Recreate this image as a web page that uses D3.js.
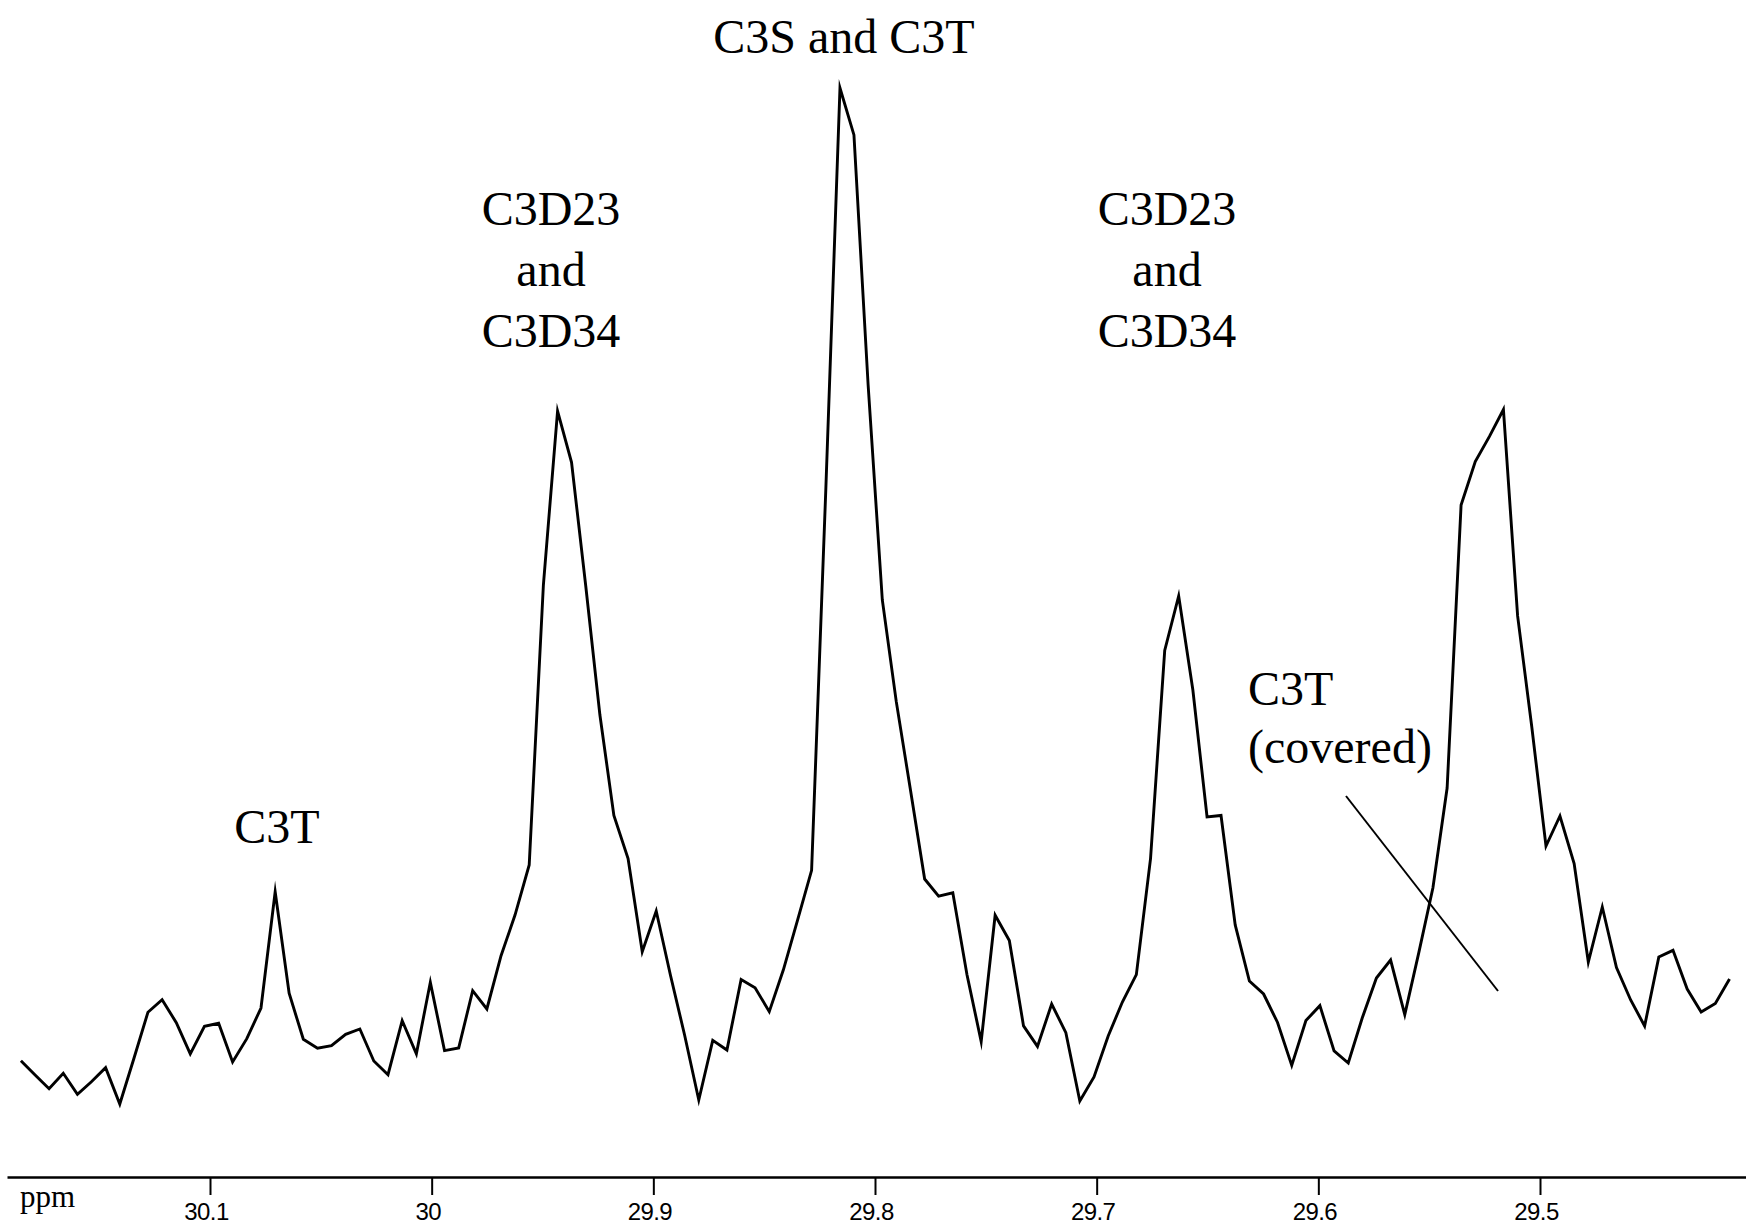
<!DOCTYPE html>
<html>
<head>
<meta charset="utf-8">
<script src="https://cdn.jsdelivr.net/npm/d3@7"></script>
<style>
  html, body { margin: 0; padding: 0; background: #fff; }
  svg { display: block; }
</style>
</head>
<body>
<svg id="chart" width="1746" height="1227"></svg>
<script>
// 13C NMR spectrum, C3 region: chemical shift (ppm) and signal intensity (arbitrary units)
const ppm = [
  30.1853, 30.1789, 30.1726, 30.1662, 30.1598, 30.1535, 30.1471, 30.1407, 30.1343, 30.1280,
  30.1216, 30.1152, 30.1089, 30.1025, 30.0961, 30.0898, 30.0834, 30.0770, 30.0706, 30.0643,
  30.0579, 30.0515, 30.0452, 30.0388, 30.0324, 30.0261, 30.0197, 30.0133, 30.0069, 30.0006,
  29.9942, 29.9878, 29.9815, 29.9751, 29.9687, 29.9624, 29.9560, 29.9496, 29.9432, 29.9369,
  29.9305, 29.9241, 29.9178, 29.9114, 29.9050, 29.8987, 29.8923, 29.8859, 29.8795, 29.8732,
  29.8668, 29.8604, 29.8541, 29.8477, 29.8413, 29.8350, 29.8286, 29.8222, 29.8158, 29.8095,
  29.8031, 29.7967, 29.7904, 29.7840, 29.7776, 29.7713, 29.7649, 29.7585, 29.7521, 29.7458,
  29.7394, 29.7330, 29.7267, 29.7203, 29.7139, 29.7076, 29.7012, 29.6948, 29.6884, 29.6821,
  29.6757, 29.6693, 29.6630, 29.6566, 29.6502, 29.6439, 29.6375, 29.6311, 29.6247, 29.6184,
  29.6120, 29.6056, 29.5993, 29.5929, 29.5865, 29.5802, 29.5738, 29.5674, 29.5610, 29.5547,
  29.5483, 29.5419, 29.5356, 29.5292, 29.5228, 29.5165, 29.5101, 29.5037, 29.4973, 29.4910,
  29.4846, 29.4782, 29.4719, 29.4655, 29.4591, 29.4528, 29.4464, 29.4400, 29.4336, 29.4273,
  29.4209, 29.4145
];

const intensity = [
   5.75,  4.36,  3.03,  4.53,  2.49,  3.71,  5.07,  1.55,  5.98, 10.44,
  11.66,  9.43,  6.40,  9.08,  9.37,  5.62,  7.88, 10.85, 22.12, 12.28,
   7.82,  6.95,  7.20,  8.30,  8.82,  5.72,  4.39,  9.62,  6.42, 13.34,
   6.72,  6.98, 12.53, 10.76, 15.92, 19.86, 24.71, 51.84, 68.70, 63.73,
  51.77, 39.24, 29.52, 25.34, 16.30, 20.25, 14.05,  8.24,  1.94,  7.72,
   6.78, 13.61, 12.82, 10.50, 14.58, 19.31, 24.19, 61.05, 100.0, 95.45,
  71.22, 50.39, 40.54, 31.98, 23.35, 21.69, 22.02, 14.08,  7.60, 19.84,
  17.39,  9.12,  7.13, 11.24,  8.46,  1.84,  4.17,  8.14, 11.43, 14.08,
  25.33, 45.50, 50.78, 41.67, 29.36, 29.51, 18.90, 13.47, 12.21,  9.45,
   5.29,  9.64, 11.08,  6.69,  5.52,  9.88, 13.76, 15.50, 10.21, 16.19,
  22.50, 32.17, 59.59, 63.81, 66.24, 68.85, 48.84, 38.08, 26.55, 29.46,
  24.85, 15.31, 20.64, 14.77, 11.63,  9.11, 15.79, 16.44, 12.69, 10.47,
  11.29, 13.66
];

const tickValues = [30.1, 30.0, 29.9, 29.8, 29.7, 29.6, 29.5];
const tickLabels = ["30.1", "30", "29.9", "29.8", "29.7", "29.6", "29.5"];
const axisTitle = "ppm";

// Peak assignments (one text block per label, lines stacked)
const peakLabels = [
  ["C3S and C3T"],
  ["C3D23", "and", "C3D34"],
  ["C3D23", "and", "C3D34"],
  ["C3T"],
  ["C3T", "(covered)"]
];

// ---------- layout ----------
const W = 1746, H = 1227;
const svg = d3.select("#chart");

const x = d3.scaleLinear().domain([30.1, 29.5]).range([210, 1540]);
const y = d3.scaleLinear().domain([0, 100]).range([1120, 88]);

const axisY = 1177;
const serif = "'Liberation Serif', 'Times New Roman', serif";
const sans = "'Liberation Sans', Arial, sans-serif";

// spectrum trace
const line = d3.line()
  .x((d, i) => x(ppm[i]))
  .y(d => y(d));

svg.append("path")
  .datum(intensity)
  .attr("d", line)
  .attr("fill", "none")
  .attr("stroke", "#000")
  .attr("stroke-width", 2.9)
  .attr("stroke-linejoin", "miter")
  .attr("stroke-miterlimit", 10);

// ppm axis spanning the full width
const xAxisScale = x.copy()
  .domain([x.invert(7), x.invert(W)])
  .range([7, W]);

const axis = d3.axisBottom(xAxisScale)
  .tickValues(tickValues)
  .tickFormat((d, i) => tickLabels[i])
  .tickSizeInner(18)
  .tickSizeOuter(0)
  .tickPadding(8);

const gAxis = svg.append("g")
  .attr("transform", `translate(0,${axisY})`)
  .call(axis);

gAxis.select(".domain")
  .attr("stroke", "#000")
  .attr("stroke-width", 2.6);
gAxis.selectAll(".tick line")
  .attr("stroke", "#000")
  .attr("stroke-width", 2);
gAxis.selectAll(".tick text")
  .attr("fill", "#000")
  .attr("font-family", sans)
  .attr("font-size", 24)
  .attr("dx", -4)
  .attr("letter-spacing", "-0.6px");

svg.append("text")
  .attr("x", 20)
  .attr("y", 1207)
  .attr("font-family", serif)
  .attr("font-size", 31)
  .attr("fill", "#000")
  .text(axisTitle);

// annotation placement: [anchor x, first baseline, text-anchor, line step]
const labelPlacement = [
  [844, 53, "middle", 61],
  [551, 225, "middle", 61],
  [1167, 225, "middle", 61],
  [277, 843, "middle", 61],
  [1248, 705, "start", 58]
];

peakLabels.forEach((lines, k) => {
  const [lx, ly, anchor, step] = labelPlacement[k];
  const t = svg.append("text")
    .attr("font-family", serif)
    .attr("font-size", 48)
    .attr("fill", "#000")
    .attr("text-anchor", anchor);
  lines.forEach((s, j) => {
    t.append("tspan")
      .attr("x", lx)
      .attr("y", ly + j * step)
      .text(s);
  });
});

// pointer from the "covered" label down to the hidden C3T position
svg.append("line")
  .attr("x1", 1346).attr("y1", 796)
  .attr("x2", 1498).attr("y2", 991)
  .attr("stroke", "#000")
  .attr("stroke-width", 2);
</script>
</body>
</html>
